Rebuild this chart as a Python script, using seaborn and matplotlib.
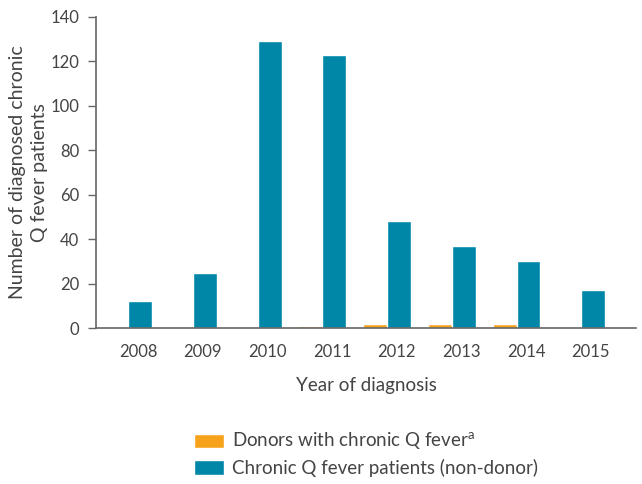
import seaborn as sns
import matplotlib.pyplot as plt
import numpy as np
import pandas as pd

years = ["2008", "2009", "2010", "2011", "2012", "2013", "2014", "2015"]
donors = [0, 0, 0, 1, 2, 2, 2, 0]
patients = [12, 25, 129, 123, 48, 37, 30, 17]
series_names = [r"Donors with chronic Q fever$^{\mathregular{a}}$",
                "Chronic Q fever patients (non-donor)"]
colours = ["#F7A21B", "#0087A8"]

df = pd.DataFrame({
	"year": years * 2,
	"count": donors + patients,
	"group": [series_names[0]] * len(years) + [series_names[1]] * len(years),
})

sns.set_style("white")
plt.rcParams["font.family"] = ["Lato", "DejaVu Sans"]
txt = "#444444"

fig = plt.figure(figsize=(6.42, 4.84), dpi=100)
ax = fig.add_axes([0.1495, 0.322, 0.8415, 0.643])

sns.barplot(data=df, x="year", y="count", hue="group", palette=colours,
			width=0.74, saturation=1, ax=ax, legend=True)

ax.set_xlim(-0.5, 7.85)
ax.set_ylim(0, 140)
ax.set_yticks(np.arange(0, 141, 20))
ax.set_xticks(np.arange(len(years)) + 0.15)
ax.set_xticklabels(years)

sns.despine(ax=ax)
for s in ["left", "bottom"]:
	ax.spines[s].set_color("#666666")
	ax.spines[s].set_linewidth(1.2)

ax.tick_params(axis="y", left=True, length=6, width=1, color="#666666",
			   labelsize=12, labelcolor=txt, pad=6)
ax.tick_params(axis="x", bottom=False, labelsize=12, labelcolor=txt, pad=8)

ax.set_xlabel("Year of diagnosis", fontsize=13.5, color=txt, labelpad=12)
ax.set_ylabel("Number of diagnosed chronic\nQ fever patients", fontsize=14,
			  color=txt, labelpad=2, linespacing=1.3)

handles, labels = ax.get_legend_handles_labels()
ax.legend(handles, labels, loc="upper center", bbox_to_anchor=(0.5, -0.275),
		  frameon=False, fontsize=13.5, labelcolor=txt, handlelength=1.6,
		  handleheight=0.8, handletextpad=0.4, labelspacing=0.35)

fig.savefig("out.png", dpi=100)
